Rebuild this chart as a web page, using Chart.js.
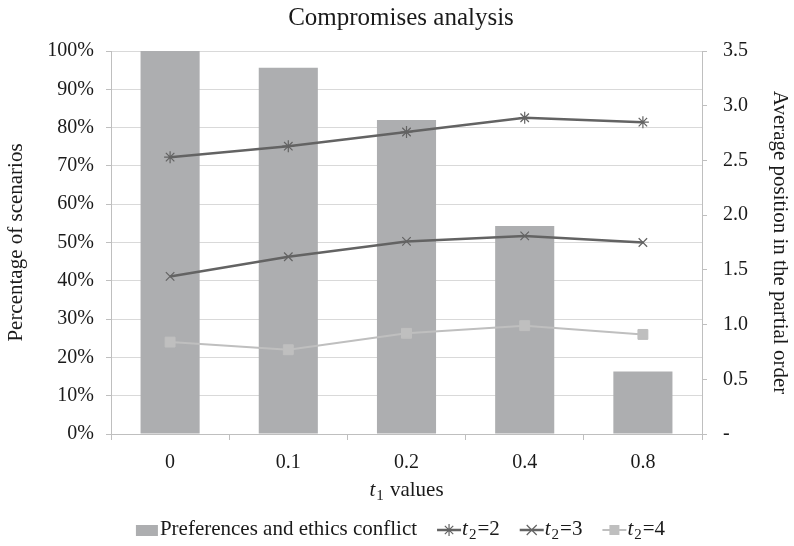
<!DOCTYPE html>
<html lang="en">
<head>
<meta charset="UTF-8">
<title>Compromises analysis</title>
<script src="https://cdn.jsdelivr.net/npm/chart.js"></script>
<style>
  body { margin: 0; background: #fff; }
  #wrap { width: 794px; height: 546px; }
</style>
</head>
<body>
<div id="wrap"><canvas id="chart" width="794" height="546"></canvas></div>
<script>
// data
const t1Values = ['0', '0.1', '0.2', '0.4', '0.8'];
const conflictPct = [100, 95.6, 82.0, 54.3, 16.3];     // left axis, %
const posT2is2 = [2.53, 2.63, 2.76, 2.89, 2.85];        // right axis
const posT2is3 = [1.44, 1.62, 1.76, 1.81, 1.75];
const posT2is4 = [0.84, 0.77, 0.92, 0.99, 0.91];
const t2Levels = ['2', '3', '4'];

const serif = '"Liberation Serif", "DejaVu Serif", serif';
const textColor = '#1a1a1a';
const dark = '#636363';
const light = '#BFBFBF';
const barGrey = '#ADAEB0';

// italic t with a subscript, then the rest in roman
function subLabel(ctx, x, y, sub, rest, size, draw) {
  ctx.font = 'italic ' + size + 'px ' + serif;
  let w = 0;
  if (draw) ctx.fillText('t', x, y);
  w += ctx.measureText('t').width + 1;
  ctx.font = Math.round(size * 0.72) + 'px ' + serif;
  if (draw) ctx.fillText(sub, x + w, y + size * 0.3);
  w += ctx.measureText(sub).width + 1;
  ctx.font = size + 'px ' + serif;
  if (draw) ctx.fillText(rest, x + w, y);
  w += ctx.measureText(rest).width;
  return w;
}

function marker(ctx, style, x, y, color) {
  ctx.save();
  ctx.strokeStyle = color;
  ctx.fillStyle = color;
  ctx.lineWidth = 1.2;
  ctx.beginPath();
  if (style === 'star') {
    const r = 6;
    ctx.moveTo(x - r, y); ctx.lineTo(x + r, y);
    ctx.moveTo(x, y - r); ctx.lineTo(x, y + r);
    const d = r * 0.7;
    ctx.moveTo(x - d, y - d); ctx.lineTo(x + d, y + d);
    ctx.moveTo(x - d, y + d); ctx.lineTo(x + d, y - d);
    ctx.stroke();
  } else if (style === 'crossRot') {
    const d = 5;
    ctx.moveTo(x - d, y - d); ctx.lineTo(x + d, y + d);
    ctx.moveTo(x - d, y + d); ctx.lineTo(x + d, y - d);
    ctx.stroke();
  } else {
    ctx.fillRect(x - 5, y - 5, 10, 10);
  }
  ctx.restore();
}

const decorations = {
  id: 'decorations',
  afterDraw(chart) {
    const ctx = chart.ctx;
    const area = chart.chartArea;
    const cx = (area.left + area.right) / 2;
    ctx.save();
    ctx.fillStyle = textColor;
    ctx.textBaseline = 'middle';
    ctx.textAlign = 'center';
    ctx.font = '25px ' + serif;
    ctx.fillText('Compromises analysis', chart.width / 2 + 4, 18);

    // x axis title: t1 values
    ctx.textAlign = 'left';
    const xw = subLabel(ctx, 0, 0, '1', ' values', 21, false);
    subLabel(ctx, cx - xw / 2, 490, '1', ' values', 21, true);

    // legend
    const ly = 529;
    const items = [{ kind: 'box', text: 'Preferences and ethics conflict' }];
    const ds = chart.data.datasets;
    for (let i = 0; i < t2Levels.length; i++) {
      items.push({ kind: 'line', level: t2Levels[i], color: ds[i].borderColor, style: ds[i].pointStyle });
    }
    let total = 0;
    items.forEach((it, i) => {
      if (it.kind === 'box') {
        ctx.font = '21px ' + serif;
        it.w = 24 + ctx.measureText(it.text).width;
      } else {
        it.w = 25 + subLabel(ctx, 0, 0, '2', '=' + it.level, 21, false);
      }
      total += it.w + (i ? 20 : 0);
    });
    let x = cx - total / 2 - 6;
    items.forEach(it => {
      if (it.kind === 'box') {
        ctx.fillStyle = barGrey;
        ctx.fillRect(x, ly - 4, 22, 11);
        ctx.fillStyle = textColor;
        ctx.font = '21px ' + serif;
        ctx.fillText(it.text, x + 24, ly);
      } else {
        ctx.strokeStyle = it.color;
        ctx.lineWidth = it.style === 'rect' ? 2 : 2.5;
        ctx.beginPath();
        ctx.moveTo(x, ly + 1);
        ctx.lineTo(x + 24, ly + 1);
        ctx.stroke();
        marker(ctx, it.style, x + 12, ly + 1, it.color);
        ctx.fillStyle = textColor;
        subLabel(ctx, x + 25, ly, '2', '=' + it.level, 21, true);
      }
      x += it.w + 20;
    });
    ctx.restore();
  }
};

new Chart(document.getElementById('chart'), {
  data: {
    labels: t1Values,
    datasets: [
      {
        type: 'line', label: 't\u2082=' + t2Levels[0], data: posT2is2, yAxisID: 'yPos',
        borderColor: dark, backgroundColor: dark, borderWidth: 2.5,
        pointStyle: 'star', pointRadius: 6, pointBorderWidth: 1.2, tension: 0, order: 1
      },
      {
        type: 'line', label: 't\u2082=' + t2Levels[1], data: posT2is3, yAxisID: 'yPos',
        borderColor: dark, backgroundColor: dark, borderWidth: 2.5,
        pointStyle: 'crossRot', pointRadius: 6, pointBorderWidth: 1.2, tension: 0, order: 1
      },
      {
        type: 'line', label: 't\u2082=' + t2Levels[2], data: posT2is4, yAxisID: 'yPos',
        borderColor: light, backgroundColor: light, borderWidth: 2,
        pointStyle: 'rect', pointRadius: 7, pointBorderWidth: 1, tension: 0, order: 1
      },
      {
        type: 'bar', label: 'Preferences and ethics conflict', data: conflictPct, yAxisID: 'yPct',
        backgroundColor: barGrey, borderWidth: 0,
        categoryPercentage: 0.5, barPercentage: 1, order: 2
      }
    ]
  },
  options: {
    responsive: false,
    animation: false,
    layout: { padding: { top: 51, left: 0, right: 0, bottom: 0 } },
    plugins: {
      legend: { display: false },
      tooltip: { enabled: false },
      title: { display: false }
    },
    scales: {
      x: {
        type: 'category',
        grid: { offset: true, drawOnChartArea: false, tickLength: 6, color: light },
        border: { color: light },
        ticks: { color: textColor, font: { family: serif, size: 20 }, padding: 11 },
        afterFit(scale) { scale.height = 112; }
      },
      yPct: {
        type: 'linear', position: 'left', min: 0, max: 100,
        grid: { color: '#D9D9D9', tickLength: 5, tickColor: light },
        border: { color: light },
        ticks: {
          stepSize: 10, color: textColor, font: { family: serif, size: 20 }, padding: 12,
          callback: v => v + '%'
        },
        title: {
          display: true, text: 'Percentage of scenarios', color: textColor,
          font: { family: serif, size: 21 }, padding: { top: 4, bottom: 0 }
        },
        afterFit(scale) { scale.width = 111; }
      },
      yPos: {
        type: 'linear', position: 'right', min: 0, max: 3.5,
        grid: { drawOnChartArea: false, tickLength: 5, color: light },
        border: { color: light },
        ticks: {
          stepSize: 0.5, color: textColor, font: { family: serif, size: 20 }, padding: 16,
          callback: v => (v === 0 ? '-' : v.toFixed(1))
        },
        title: {
          display: true, text: 'Average position in the partial order', color: textColor,
          font: { family: serif, size: 21 }, padding: { top: 2, bottom: 0 }
        },
        afterFit(scale) { scale.width = 92; }
      }
    }
  },
  plugins: [decorations]
});
</script>
</body>
</html>
